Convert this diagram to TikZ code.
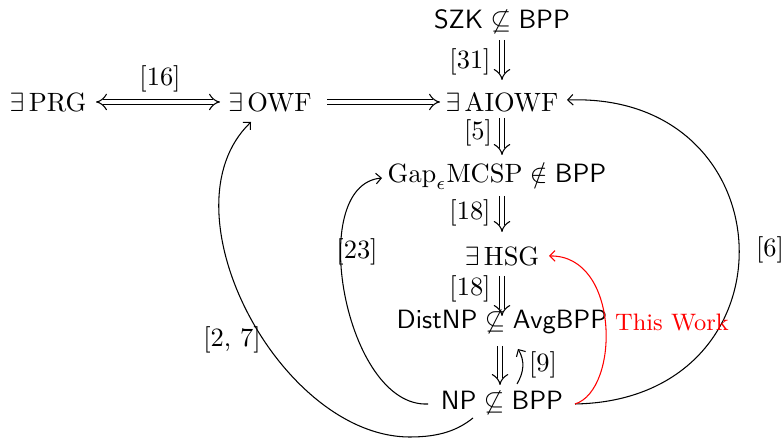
\documentclass[tikz,border=0pt]{standalone}
\usetikzlibrary{arrows.meta,calc}
\begin{document}
\begin{tikzpicture}[x=0.378pt,y=-0.378pt,
  every node/.style={inner sep=1.5pt},
  imp/.style={double, double distance=1.8pt, line width=0.4pt, -{Implies}},
  impb/.style={double, double distance=1.8pt, line width=0.4pt, {Implies}-{Implies}},
  cto/.style={-{Straight Barb[length=2pt,width=4pt]}, line width=0.4pt},
  worklab/.style={text=red, font=\small}]
\useasboundingbox (0,0) rectangle (783,439);
\node (szk) at (502,22) {$\mathsf{SZK}\not\subseteq\mathsf{BPP}$};
\node (prg) at (48,102) {$\exists\,\mathrm{PRG}$};
\node (owf) at (270,102) {$\exists\,\mathrm{OWF}$};
\node (aiowf) at (502,102) {$\exists\,\mathrm{AIOWF}$};
\node (gap) at (497,176) {$\mathrm{Gap}_\epsilon\mathrm{MCSP}\notin\mathsf{BPP}$};
\node (hsg) at (502,256) {$\exists\,\mathrm{HSG}$};
\node (dist) at (502,322) {$\mathsf{DistNP}\not\subseteq\mathsf{AvgBPP}$};
\node (np) at (502,403) {$\mathsf{NP}\not\subseteq\mathsf{BPP}$};

\draw[impb] ($(prg)+(48,0)$) -- ($(owf)+(-50,0)$);
\node at (160,79) {[16]};
\draw[imp] ($(owf)+(57,0)$) -- ($(aiowf)+(-62,0)$);
\draw[imp] ($(szk)+(0,18)$) -- ($(aiowf)+(0,-22)$);
\node at (470,62) {[31]};
\draw[imp] ($(aiowf)+(0,16)$) -- ($(gap-|aiowf)+(0,-21)$);
\node at (478,133) {[5]};
\draw[imp] ($(gap-|hsg)+(0,20)$) -- ($(hsg)+(0,-24)$);
\node at (470,213) {[18]};
\draw[imp] ($(hsg)+(0,20)$) -- ($(dist)+(0,-6)$);
\node at (470,289) {[18]};
\draw[imp] ($(dist)+(-2,24)$) -- ($(np)+(-2,-18)$);
\draw[cto] ($(np)+(15,-19)$) .. controls +(7,-12) and +(7,12) .. ($(dist)+(16,27)$);
\node at (543,365) {[9]};

\draw[cto] ($(np)+(-74,1)$) .. controls (345,408) and (305,185) .. ($(gap)+(-115,2)$);
\node at (357,252) {[23]};
\coordinate (b27) at (410,437);
\draw[cto] ($(np)+(-29,15)$) .. controls +(-15,12) and (440,437) .. (b27)
  .. controls (280,437) and (160,210) .. ($(owf)+(-19,20)$);
\node at (232,340) {[2, 7]};
\draw[cto] ($(np)+(73,1)$) .. controls (800,400) and (790,92) .. ($(aiowf)+(65,-2)$);
\node at (770,250) {[6]};
\draw[cto,red] ($(np)+(73,1)$) .. controls (620,390) and (620,255) .. ($(hsg)+(47,0)$);
\node[worklab] at (672,323) {This Work};
\end{tikzpicture}
\end{document}
